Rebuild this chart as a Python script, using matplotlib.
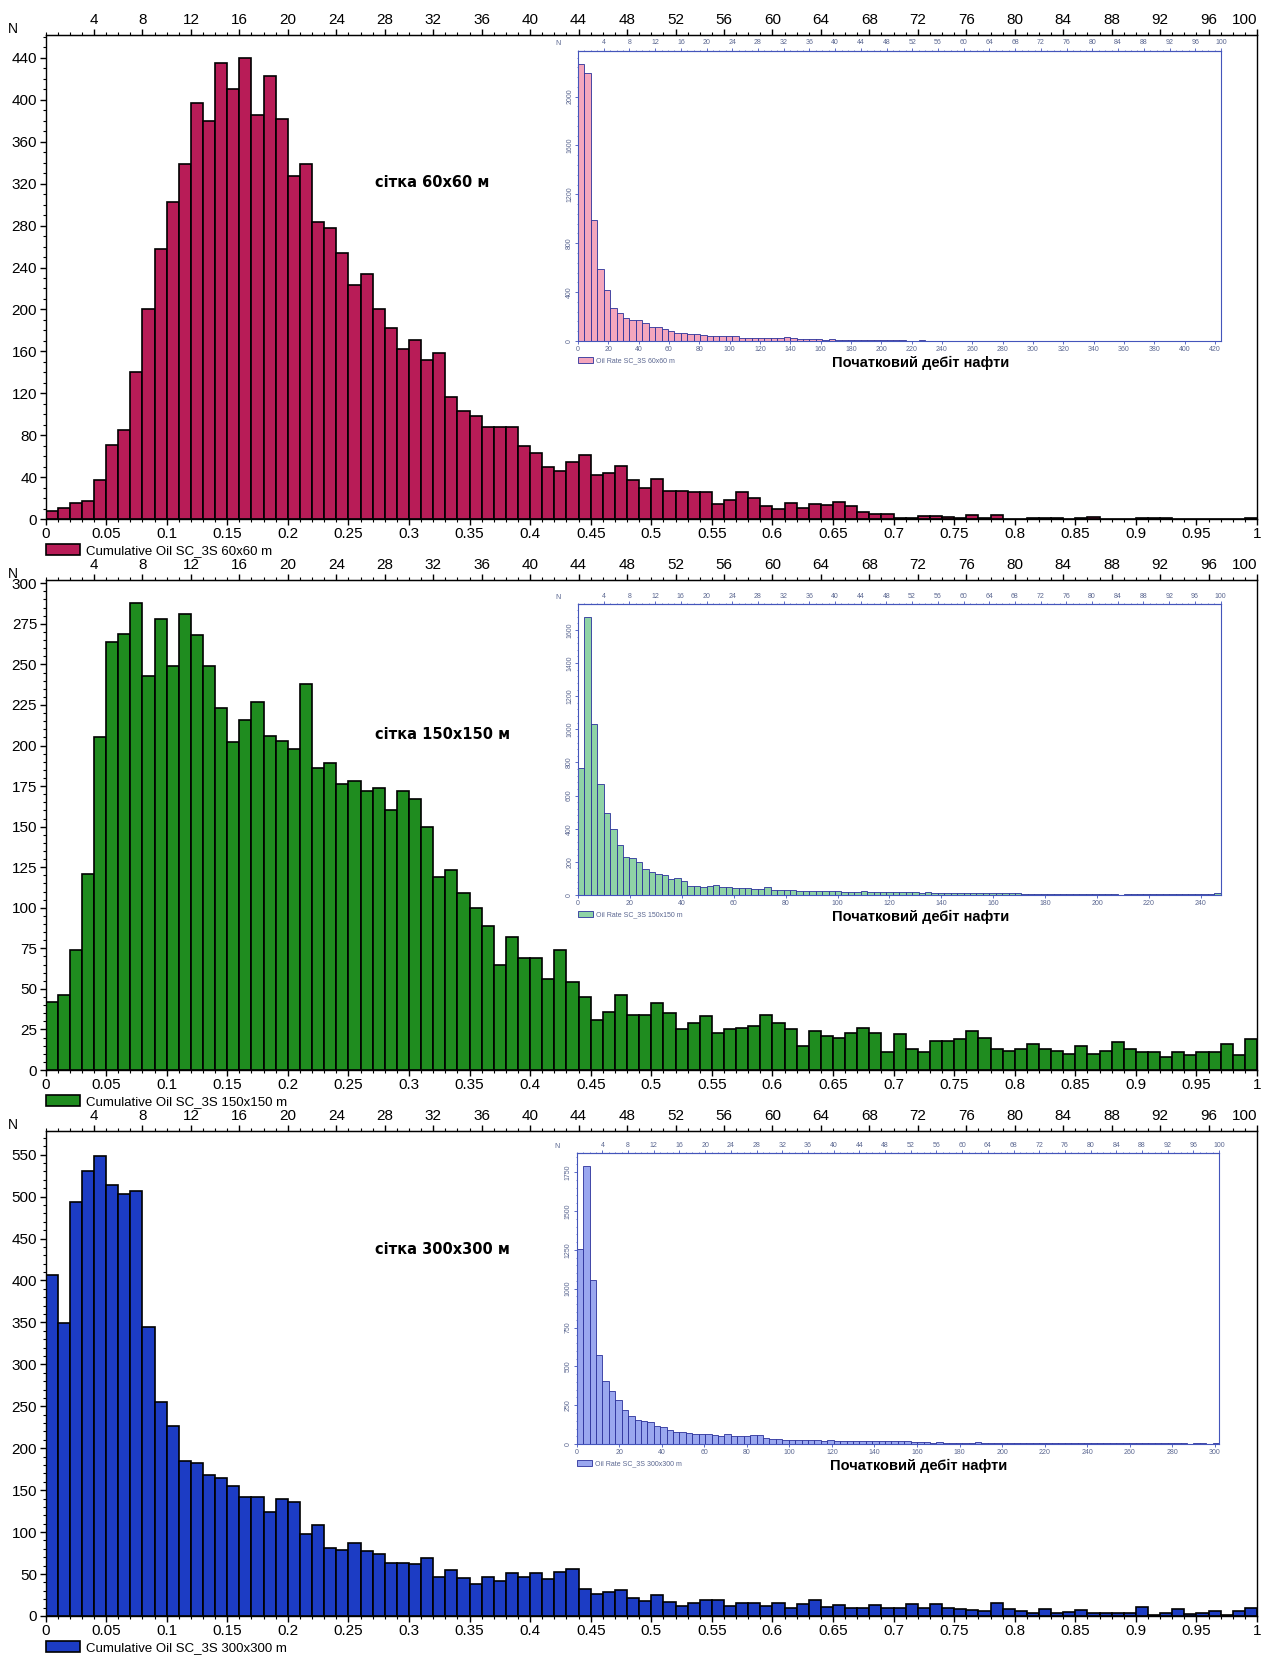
import numpy as np
import matplotlib.pyplot as plt
from matplotlib.ticker import MultipleLocator

plt.rcParams['font.family'] = ['Liberation Sans Narrow', 'Liberation Sans', 'DejaVu Sans']

# Main histograms: 100 bins of cumulative oil, 0..1 (width 0.01)
grid_60 = [8, 11, 15, 17, 37, 71, 85, 140, 200, 258,
           303, 339, 397, 380, 435, 410, 440, 386, 423, 382,
           327, 339, 283, 278, 254, 223, 234, 200, 182, 162,
           171, 152, 158, 116, 103, 98, 88, 88, 88, 70,
           63, 50, 46, 54, 61, 42, 44, 51, 37, 30,
           38, 27, 27, 26, 26, 14, 18, 26, 20, 12,
           10, 15, 11, 14, 13, 16, 12, 7, 5, 5,
           1, 1, 3, 3, 2, 1, 4, 1, 4, 0,
           0, 1, 1, 1, 0, 1, 2, 0, 0, 0,
           1, 1, 1, 0, 0, 0, 0, 0, 0, 1]

grid_150 = [42, 46, 74, 121, 205, 264, 269, 288, 243, 278,
            249, 281, 268, 249, 223, 202, 216, 227, 206, 203,
            198, 238, 186, 189, 176, 178, 172, 174, 160, 172,
            167, 150, 119, 123, 109, 100, 89, 65, 82, 69,
            69, 56, 74, 54, 45, 31, 36, 46, 34, 34,
            41, 35, 25, 29, 33, 23, 25, 26, 27, 34,
            29, 25, 15, 24, 21, 20, 23, 26, 23, 11,
            22, 13, 11, 18, 18, 19, 24, 20, 13, 12,
            13, 16, 13, 12, 10, 15, 10, 12, 17, 13,
            11, 11, 8, 11, 9, 11, 11, 16, 9, 19]

grid_300 = [406, 349, 493, 530, 548, 514, 503, 507, 344, 255,
            226, 185, 182, 168, 164, 155, 142, 142, 124, 139,
            136, 98, 108, 81, 79, 87, 78, 74, 63, 63,
            62, 69, 46, 55, 45, 38, 46, 42, 51, 46,
            51, 44, 52, 56, 32, 26, 29, 31, 22, 18,
            25, 17, 12, 15, 19, 19, 12, 15, 15, 12,
            15, 9, 14, 19, 11, 13, 10, 10, 13, 10,
            10, 14, 9, 14, 10, 8, 7, 6, 16, 8,
            6, 3, 8, 3, 5, 7, 3, 4, 3, 4,
            11, 1, 3, 8, 2, 4, 6, 1, 6, 10]

# Inset histograms: initial oil rate, 100 bins over each range
rate_60 = [2267, 2196, 990, 587, 417, 273, 232, 186, 175, 169,
           145, 117, 117, 98, 82, 68, 68, 55, 55, 46,
           41, 41, 38, 38, 38, 25, 22, 27, 27, 25,
           25, 25, 30, 22, 19, 16, 16, 14, 11, 14,
           10, 9, 8, 8, 7, 9, 6, 6, 5, 5,
           6, 4, 4, 5, 3, 3, 4, 3, 2, 3,
           2, 3, 2, 2, 1, 2, 3, 2, 1, 2,
           1, 2, 1, 1, 2, 1, 1, 2, 1, 1,
           1, 1, 0, 1, 1, 2, 1, 1, 0, 1,
           1, 0, 1, 1, 0, 1, 0, 0, 1, 2]

rate_150 = [769, 1676, 1032, 668, 497, 400, 304, 231, 221, 201,
            155, 141, 129, 121, 97, 105, 85, 56, 52, 50,
            52, 60, 46, 46, 40, 40, 44, 36, 36, 46,
            28, 30, 30, 28, 24, 26, 24, 24, 26, 22,
            22, 20, 20, 20, 24, 18, 18, 16, 18, 18,
            18, 16, 16, 14, 16, 12, 14, 12, 12, 12,
            10, 12, 12, 12, 12, 10, 12, 10, 12, 8,
            6, 8, 8, 6, 4, 6, 8, 4, 6, 6,
            4, 6, 4, 6, 2, 4, 4, 6, 8, 4,
            6, 4, 6, 8, 4, 6, 6, 4, 8, 10]

rate_300 = [1257, 1792, 1058, 571, 403, 339, 281, 221, 182, 155,
            146, 139, 116, 112, 88, 75, 75, 71, 64, 62,
            62, 58, 54, 64, 52, 52, 54, 56, 60, 39,
            32, 30, 26, 26, 28, 28, 26, 24, 21, 24,
            21, 21, 21, 19, 19, 19, 19, 17, 17, 17,
            17, 21, 13, 11, 12, 10, 11, 9, 10, 9,
            8, 9, 12, 8, 7, 8, 7, 6, 8, 7,
            6, 7, 6, 8, 6, 5, 7, 6, 5, 6,
            5, 4, 6, 5, 4, 5, 6, 4, 5, 4,
            5, 6, 4, 5, 4, 3, 5, 4, 3, 8]

main_labels = ['Cumulative Oil SC_3S 60x60 m', 'Cumulative Oil SC_3S 150x150 m',
               'Cumulative Oil SC_3S 300x300 m']
inset_labels = ['Oil Rate SC_3S 60x60 m', 'Oil Rate SC_3S 150x150 m', 'Oil Rate SC_3S 300x300 m']
grid_texts = ['сітка 60x60 м', 'сітка 150x150 м', 'сітка 300x300 м']
xlabel_inset = 'Початковий дебіт нафти'

panels = [
    dict(vals=grid_60, color='#b81c57', ylim=462, ystep=40, yminor=10,
         rect=[0.036, 0.6875, 0.9577, 0.2915], text_xy=(0.319, 0.696),
         ivals=rate_60, icolor='#f4a6bd', ixmax=424, ixstep=20, iylim=2376, iystep=400,
         irect=[0.4569, 0.7947, 0.5083, 0.1748]),
    dict(vals=grid_150, color='#1f8c1f', ylim=302, ystep=25, yminor=5,
         rect=[0.036, 0.3558, 0.9577, 0.2950], text_xy=(0.328, 0.684),
         ivals=rate_150, icolor='#8fd3a6', ixmax=247.6, ixstep=20, iylim=1757, iystep=200,
         irect=[0.4569, 0.4612, 0.5080, 0.1752]),
    dict(vals=grid_300, color='#1c3cc4', ylim=578, ystep=50, yminor=10,
         rect=[0.036, 0.0271, 0.9577, 0.2919], text_xy=(0.328, 0.755),
         ivals=rate_300, icolor='#9aa7ef', ixmax=302, ixstep=20, iylim=1873, iystep=250,
         irect=[0.4559, 0.1306, 0.5078, 0.1752]),
]

fig = plt.figure(figsize=(12.65, 16.61), dpi=100)

for i, p in enumerate(panels):
    # main histogram
    ax = fig.add_axes(p['rect'])
    bins = np.arange(len(p['vals'])) * 0.01
    ax.bar(bins, p['vals'], width=0.01, align='edge', color=p['color'],
           edgecolor='black', linewidth=1.2, label=main_labels[i])
    ax.set_xlim(0, 1)
    ax.set_ylim(0, p['ylim'])
    xt = np.round(np.arange(0, 1.0001, 0.05), 2)
    ax.set_xticks(xt)
    ax.set_xticklabels([f'{v:g}' for v in xt])
    ax.xaxis.set_minor_locator(MultipleLocator(0.01))
    ax.set_yticks(np.arange(0, p['ylim'], p['ystep']))
    ax.yaxis.set_minor_locator(MultipleLocator(p['yminor']))
    ax.tick_params(which='major', direction='out', length=4, width=1, labelsize=11, pad=2)
    ax.tick_params(which='minor', direction='out', length=2, width=0.8)
    for s in ax.spines.values():
        s.set_linewidth(1)

    sec = ax.secondary_xaxis('top', functions=(lambda x: x * 100, lambda q: q / 100))
    sec.set_xticks(np.arange(4, 101, 4))
    sec.xaxis.set_minor_locator(MultipleLocator(1))
    sec.tick_params(which='major', direction='out', length=4, width=1, labelsize=11, pad=2)
    sec.tick_params(which='minor', direction='out', length=2, width=0.8)
    sec.get_xticklabels()[-1].set_ha('right')

    ax.text(-0.027, 1.012, 'N', transform=ax.transAxes, fontsize=10, ha='center', va='center')
    ax.text(*p['text_xy'], grid_texts[i], transform=ax.transAxes, fontsize=10.5,
            fontweight='bold', family=['DejaVu Sans'], ha='center', va='center')
    ax.legend(loc='upper left', bbox_to_anchor=(0.0, -0.052), frameon=False,
              borderaxespad=0, borderpad=0, handlelength=2.6, handleheight=0.9,
              handletextpad=0.5, fontsize=9.5)

    # inset histogram
    axi = fig.add_axes(p['irect'])
    w = p['ixmax'] / len(p['ivals'])
    ibins = np.arange(len(p['ivals'])) * w
    axi.bar(ibins, p['ivals'], width=w, align='edge', color=p['icolor'],
            edgecolor='#2a309a', linewidth=0.6, label=inset_labels[i])
    axi.set_xlim(0, p['ixmax'])
    axi.set_ylim(0, p['iylim'])
    axi.set_xticks(np.arange(0, p['ixmax'], p['ixstep']))
    axi.set_yticks(np.arange(0, p['iylim'], p['iystep']))
    axi.yaxis.set_minor_locator(MultipleLocator(p['iystep'] / 5))
    axi.tick_params(which='major', direction='out', length=2, width=0.6, labelsize=5,
                    labelcolor='#5a6690', color='#4455bb', pad=1.5)
    axi.tick_params(which='minor', direction='out', length=1, width=0.5, color='#4455bb')
    axi.tick_params(axis='y', labelrotation=90)
    for lab in axi.get_yticklabels():
        lab.set_va('center')
    for s in axi.spines.values():
        s.set_color('#4455bb')
        s.set_linewidth(0.8)

    isec = axi.secondary_xaxis('top', functions=(lambda x, m=p['ixmax']: x / m * 100,
                                                 lambda q, m=p['ixmax']: q / 100 * m))
    isec.set_xticks(np.arange(4, 101, 4))
    isec.xaxis.set_minor_locator(MultipleLocator(1))
    isec.tick_params(which='major', direction='out', length=2, width=0.6, labelsize=5,
                     labelcolor='#5a6690', color='#4455bb', pad=1)
    isec.tick_params(which='minor', direction='out', length=1, width=0.5, color='#4455bb')
    isec.spines['top'].set_color('#4455bb')

    axi.text(-0.031, 1.023, 'N', transform=axi.transAxes, fontsize=5, color='#5a6690',
             ha='center', va='center')
    axi.text(0.533, -0.076, xlabel_inset, transform=axi.transAxes, fontsize=10.5,
             fontweight='bold', family=['Liberation Sans', 'DejaVu Sans'],
             ha='center', va='center')
    axi.legend(loc='upper left', bbox_to_anchor=(0.0, -0.055), frameon=False,
               borderaxespad=0, borderpad=0, handlelength=2.2, handleheight=1.0,
               handletextpad=0.4, fontsize=5, labelcolor='#5a6690')

fig.savefig('out.png', dpi=100)
